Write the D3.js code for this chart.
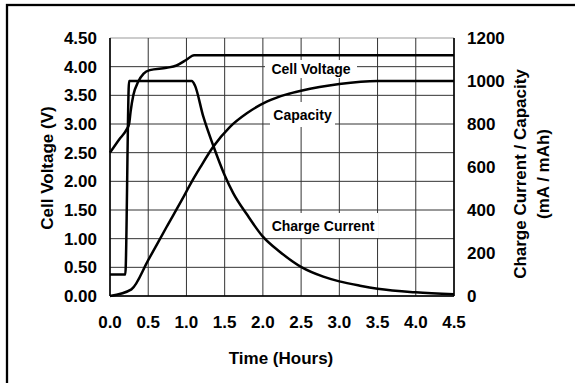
<!DOCTYPE html>
<html>
<head>
<meta charset="utf-8">
<script src="https://cdn.jsdelivr.net/npm/d3@7"></script>
<style>
  body { margin: 0; background: #fff; }
  svg { font-family: "Liberation Sans", Arial, sans-serif; font-weight: bold; }
</style>
</head>
<body>
<svg id="chart" width="575" height="383"></svg>
<script>
// time axis (hours) and tick values
const timeTicks = [0, 0.5, 1, 1.5, 2, 2.5, 3, 3.5, 4, 4.5];
const voltTicks = [0, 0.5, 1, 1.5, 2, 2.5, 3, 3.5, 4, 4.5];
const currTicks = [0, 200, 400, 600, 800, 1000, 1200];

// cell voltage (V) vs time (h)
const voltTime = [0, 0.12, 0.22, 0.25, 0.27, 0.305, 0.37, 0.44, 0.52, 0.74, 0.87, 1.0, 1.1, 4.5];
const voltVals = [2.5, 2.73, 2.91, 3.0, 3.22, 3.5, 3.74, 3.88, 3.94, 3.98, 4.02, 4.12, 4.2, 4.2];

// charge current (mA) vs time (h)
const currTime = [0, 0.2, 0.25, 1.07, 1.11, 1.22, 1.35, 1.5, 1.61, 1.79, 2.0, 2.22, 2.51, 2.79, 3.0, 3.27, 3.5, 4.0, 4.5];
const currVals = [100, 100, 1000, 1000, 980, 835, 700, 562, 480, 380, 276, 206, 133, 90, 68, 48, 34, 17, 8];

// capacity (mAh) vs time (h)
const capTime = [0, 0.28, 0.5, 0.74, 0.94, 1.07, 1.18, 1.35, 1.57, 1.79, 2.05, 2.31, 2.5, 3.0, 3.5, 4.5];
const capVals = [0, 31, 167, 321, 447, 532, 598, 694, 787, 850, 904, 938, 955, 986, 1000, 1000];

const svg = d3.select("#chart");
const margin = { left: 110, top: 38, right: 454, bottom: 296 };

const x = d3.scaleLinear().domain([0, 4.5]).range([margin.left, margin.right]);
const yL = d3.scaleLinear().domain([0, 4.5]).range([margin.bottom, margin.top]);
const yR = d3.scaleLinear().domain([0, 1200]).range([margin.bottom, margin.top]);

// outer frame
svg.append("rect")
  .attr("x", 7).attr("y", 5).attr("width", 600).attr("height", 400)
  .attr("fill", "none").attr("stroke", "#000").attr("stroke-width", 2.3);

// grid
svg.append("g").selectAll("line").data(voltTicks).join("line")
  .attr("x1", margin.left).attr("x2", margin.right)
  .attr("y1", d => yL(d)).attr("y2", d => yL(d))
  .attr("stroke", d => d == 4.5 ? "#999" : "#333").attr("stroke-width", 1);
svg.append("g").selectAll("line").data(timeTicks).join("line")
  .attr("x1", d => x(d)).attr("x2", d => x(d))
  .attr("y1", margin.top).attr("y2", margin.bottom)
  .attr("stroke", "#333").attr("stroke-width", 1);

// axes lines
svg.append("line").attr("x1", margin.left).attr("x2", margin.right)
  .attr("y1", margin.bottom).attr("y2", margin.bottom).attr("stroke", "#000").attr("stroke-width", 1.5);
svg.append("line").attr("x1", margin.left).attr("x2", margin.left)
  .attr("y1", margin.top).attr("y2", margin.bottom).attr("stroke", "#000").attr("stroke-width", 1.5);
svg.append("line").attr("x1", margin.right).attr("x2", margin.right)
  .attr("y1", margin.top).attr("y2", margin.bottom).attr("stroke", "#000").attr("stroke-width", 1.5);

// curve labels with white boxes
const labels = [
  { text: "Cell Voltage", x: 265, y: 60, w: 92, h: 18 },
  { text: "Capacity", x: 270, y: 102, w: 65, h: 25 },
  { text: "Charge Current", x: 268, y: 213, w: 110, h: 25 }
];

// curves
const line = d3.line().x(d => x(d[0])).curve(d3.curveMonotoneX);
function drawCurve(ts, vs, ys) {
  svg.append("path")
    .datum(ts.map((t, i) => [t, vs[i]]))
    .attr("d", line.y(d => ys(d[1])))
    .attr("fill", "none").attr("stroke", "#000").attr("stroke-width", 2.5)
    .attr("stroke-linejoin", "round");
}

const lg = svg.append("g");
lg.selectAll("rect").data(labels).join("rect")
  .attr("x", d => d.x).attr("y", d => d.y).attr("width", d => d.w).attr("height", d => d.h)
  .attr("fill", "#fff");

drawCurve(voltTime, voltVals, yL);
drawCurve(currTime, currVals, yR);
drawCurve(capTime, capVals, yR);

lg.selectAll("text").data(labels).join("text")
  .attr("x", d => d.x + d.w / 2).attr("y", d => d.y + d.h / 2 + 5)
  .attr("text-anchor", "middle").attr("font-size", 14).text(d => d.text);

// ticks
svg.append("g").selectAll("text").data(voltTicks).join("text")
  .attr("x", 97).attr("y", d => yL(d) + 6)
  .attr("text-anchor", "end").attr("font-size", 17)
  .text(d => d.toFixed(2));
svg.append("g").selectAll("text").data(currTicks).join("text")
  .attr("x", 467).attr("y", d => yR(d) + 6)
  .attr("text-anchor", "start").attr("font-size", 17)
  .text(d => d);
svg.append("g").selectAll("text").data(timeTicks).join("text")
  .attr("x", d => x(d)).attr("y", 328)
  .attr("text-anchor", "middle").attr("font-size", 17)
  .text(d => d.toFixed(1));

// axis titles
svg.append("text").attr("x", 281).attr("y", 364)
  .attr("text-anchor", "middle").attr("font-size", 17).text("Time (Hours)");
svg.append("text").attr("transform", "translate(53,168) rotate(-90)")
  .attr("text-anchor", "middle").attr("font-size", 17).text("Cell Voltage (V)");
const rt = svg.append("text").attr("transform", "translate(526,174) rotate(-90)")
  .attr("text-anchor", "middle").attr("font-size", 17);
rt.append("tspan").attr("x", 0).attr("dy", 0).text("Charge Current / Capacity");
rt.append("tspan").attr("x", 0).attr("dy", 23).text("(mA / mAh)");
</script>
</body>
</html>
